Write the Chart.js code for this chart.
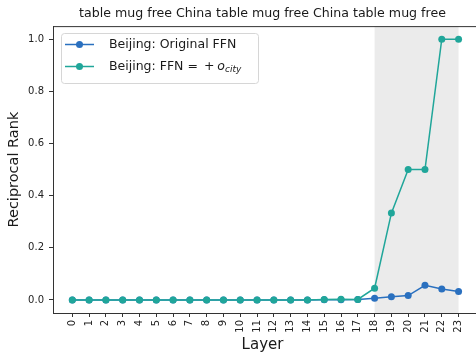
<!DOCTYPE html>
<html>
<head>
<meta charset="utf-8">
<script src="https://cdn.jsdelivr.net/npm/chart.js@4"></script>
<style>
    html, body { margin: 0; padding: 0; background: #fff; }
    #wrap { width: 476px; height: 352px; }
</style>
</head>
<body>
<div id="wrap"><canvas id="rankChart" width="476" height="352"></canvas></div>
<script>
// Layers and reciprocal rank per layer
const layers = [0, 1, 2, 3, 4, 5, 6, 7, 8, 9, 10, 11, 12, 13, 14, 15, 16, 17, 18, 19, 20, 21, 22, 23];
const originalFFN = [0, 0, 0, 0, 0, 0, 0, 0, 0, 0, 0, 0, 0, 0, 0, 0.001, 0.001, 0.002, 0.007, 0.012, 0.017, 0.056, 0.042, 0.032];
const ffnPlusCity = [0, 0, 0, 0, 0, 0, 0, 0, 0, 0, 0, 0, 0, 0, 0, 0.002, 0.003, 0.002, 0.045, 0.333, 0.5, 0.5, 1.0, 1.0];
const yTicks = [0, 0.2, 0.4, 0.6, 0.8, 1.0];
const shadeRange = [18, 23];

const titleText = 'table mug free China table mug free China table mug free';
const seriesNames = ['Beijing: Original FFN', 'Beijing: FFN = '];
const colors = ['#2a70bf', '#20a69a'];
const FONT = 'DejaVu Sans';

const toPoints = (vals) => layers.map((l, i) => ({ x: l, y: vals[i] }));

// Gray band over the late layers, plus the top spine
const bandPlugin = {
    id: 'band',
    beforeDatasetsDraw(chart) {
        const { ctx, chartArea, scales } = chart;
        const x0 = scales.x.getPixelForValue(shadeRange[0]);
        const x1 = scales.x.getPixelForValue(shadeRange[1]);
        ctx.save();
        ctx.fillStyle = '#ebebeb';
        ctx.fillRect(x0, chartArea.top, x1 - x0, chartArea.bottom - chartArea.top);
        ctx.restore();
    },
    afterDraw(chart) {
        const { ctx, chartArea } = chart;
        ctx.save();
        ctx.strokeStyle = '#333';
        ctx.lineWidth = 1;
        ctx.beginPath();
        ctx.moveTo(chartArea.left, chartArea.top + 0.5);
        ctx.lineTo(chart.width, chartArea.top + 0.5);
        ctx.moveTo(chartArea.right, chartArea.bottom + 0.5);
        ctx.lineTo(chart.width, chartArea.bottom + 0.5);
        ctx.stroke();
        ctx.restore();
    }
};

// Legend with a math-style subscript on the second entry
const legendPlugin = {
    id: 'mathLegend',
    afterDraw(chart) {
        const ctx = chart.ctx;
        const box = { x: 61, y: 33, w: 197, h: 50 };
        ctx.save();
        ctx.fillStyle = 'rgba(255,255,255,0.8)';
        ctx.strokeStyle = '#d6d6d6';
        ctx.lineWidth = 1;
        ctx.beginPath();
        ctx.roundRect(box.x + 0.5, box.y + 0.5, box.w, box.h, 3);
        ctx.fill();
        ctx.stroke();

        const rows = [44.5, 66.5];
        rows.forEach((cy, i) => {
            ctx.strokeStyle = colors[i];
            ctx.lineWidth = 1.5;
            ctx.beginPath();
            ctx.moveTo(65, cy);
            ctx.lineTo(94, cy);
            ctx.stroke();
            ctx.fillStyle = colors[i];
            ctx.beginPath();
            ctx.arc(79.5, cy, 3.5, 0, Math.PI * 2);
            ctx.fill();
        });

        ctx.fillStyle = '#1a1a1a';
        ctx.textBaseline = 'middle';
        ctx.font = `12.5px "${FONT}"`;
        ctx.fillText(seriesNames[0], 109, rows[0]);

        let x = 109;
        ctx.fillText(seriesNames[1], x, rows[1]);
        x += ctx.measureText(seriesNames[1]).width + 2;
        ctx.fillText('+', x, rows[1]);
        x += ctx.measureText('+').width + 3;
        ctx.font = `italic 12.5px "${FONT}"`;
        ctx.fillText('o', x, rows[1]);
        x += ctx.measureText('o').width;
        ctx.font = `italic 9px "${FONT}"`;
        ctx.fillText('city', x, rows[1] + 3);
        ctx.restore();
    }
};

new Chart(document.getElementById('rankChart'), {
    type: 'line',
    data: {
        datasets: [
            {
                label: seriesNames[0],
                data: toPoints(originalFFN),
                borderColor: colors[0],
                backgroundColor: colors[0],
                borderWidth: 1.5,
                pointRadius: 3.5,
                pointBorderWidth: 0,
                order: 1
            },
            {
                label: seriesNames[1],
                data: toPoints(ffnPlusCity),
                borderColor: colors[1],
                backgroundColor: colors[1],
                borderWidth: 1.5,
                pointRadius: 3.5,
                pointBorderWidth: 0,
                order: 0
            }
        ]
    },
    options: {
        responsive: false,
        animation: false,
        layout: { padding: 0 },
        plugins: {
            legend: { display: false },
            tooltip: { enabled: false },
            title: {
                display: true,
                fullSize: false,
                text: titleText,
                color: '#1a1a1a',
                font: { family: FONT, size: 12.6, weight: 'normal' },
                padding: { top: 6, bottom: 5 }
            }
        },
        scales: {
            x: {
                type: 'linear',
                min: -1.15,
                max: 23.8,
                afterFit: (s) => { s.height = 39; },
                afterBuildTicks: (s) => { s.ticks = layers.map(v => ({ value: v })); },
                grid: { display: true, drawOnChartArea: false, drawTicks: true, tickLength: 4, color: '#333' },
                border: { display: true, color: '#333', width: 1 },
                ticks: {
                    autoSkip: false,
                    maxRotation: 90,
                    minRotation: 90,
                    padding: 3,
                    color: '#222',
                    font: { family: FONT, size: 10 },
                    callback: (v) => String(v)
                },
                title: {
                    display: true,
                    text: 'Layer',
                    color: '#1a1a1a',
                    font: { family: FONT, size: 15 },
                    padding: { top: 0, bottom: -2 }
                }
            },
            y: {
                min: -0.05,
                max: 1.05,
                afterFit: (s) => { s.width = 53; },
                afterBuildTicks: (s) => { s.ticks = yTicks.map(v => ({ value: v })); },
                grid: { display: true, drawOnChartArea: false, drawTicks: true, tickLength: 4, color: '#333' },
                border: { display: true, color: '#333', width: 1 },
                ticks: {
                    padding: 5,
                    color: '#222',
                    font: { family: FONT, size: 10 },
                    callback: (v) => v.toFixed(1)
                },
                title: {
                    display: true,
                    text: 'Reciprocal Rank',
                    color: '#1a1a1a',
                    font: { family: FONT, size: 14.5 },
                    padding: { top: 6, bottom: 0 }
                }
            }
        }
    },
    plugins: [bandPlugin, legendPlugin]
});
</script>
</body>
</html>
